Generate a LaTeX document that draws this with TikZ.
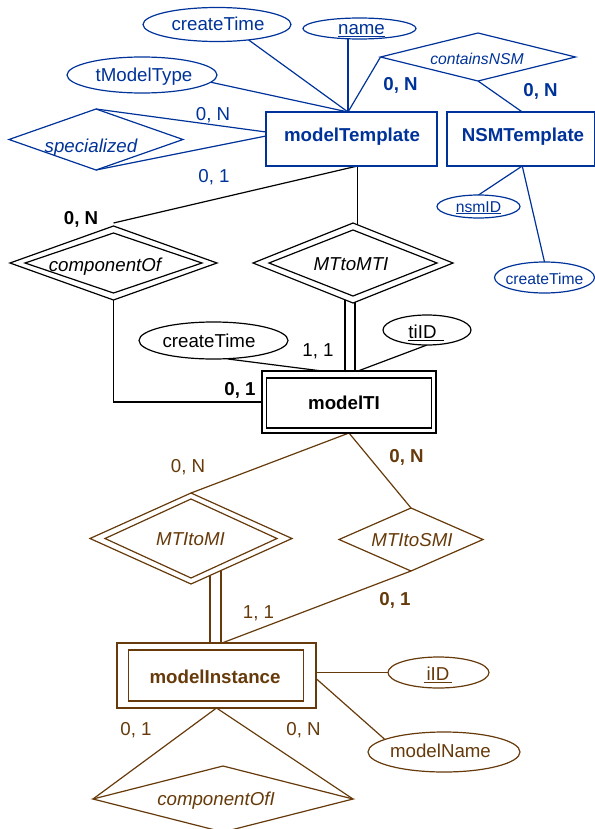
\documentclass[tikz,border=0pt]{standalone}
\usepackage{fontspec}
\setmainfont{Liberation Sans}
\usetikzlibrary{shapes.geometric}
\definecolor{erblue}{RGB}{0,51,153}
\definecolor{erbrown}{RGB}{102,58,10}
\pgfdeclarelayer{bg}
\pgfsetlayers{bg,main}
\begin{document}
\begin{tikzpicture}[x=1bp,y=-1bp,
  every node/.style={inner sep=0pt, outer sep=0pt},
  lbl/.style={font=\fontsize{18.7bp}{21bp}\selectfont, text height=13.4bp, text depth=0pt},
  blbl/.style={lbl, font=\fontsize{18.7bp}{21bp}\selectfont\bfseries},
  ilbl/.style={lbl, font=\fontsize{18.7bp}{21bp}\selectfont\itshape},
  slbl/.style={font=\fontsize{15.7bp}{18bp}\selectfont, text height=11.2bp, text depth=0pt},
  silbl/.style={slbl, font=\fontsize{15.7bp}{18bp}\selectfont\itshape},
  ent/.style={draw, fill=white, rectangle, line width=1.2bp},
  attr/.style={draw, fill=white, ellipse, line width=1.2bp},
  rel/.style={draw, fill=white, diamond, line width=1.2bp},
  link/.style={line width=1.2bp},
]
\useasboundingbox (0,0) rectangle (595,829);

% ---------------- model templates (blue) ----------------
\begin{scope}[color=erblue]
  \node[attr, minimum width=148bp, minimum height=34bp] (ctA) at (217,24.5) {};
  \node[lbl] (ctAt) at (218,24) {createTime};
  \node[attr, minimum width=113bp, minimum height=21bp] (nm) at (359.5,28.5) {};
  \node[lbl] (nmt) at (361.5,28) {\underline{name}};
  \node[attr, minimum width=150bp, minimum height=36bp] (tmt) at (142,75) {};
  \node[lbl] (tmtt) at (144,74.5) {tModelType};

  \node[ent, minimum width=171bp, minimum height=54bp] (mt) at (351.5,139) {};
  \node[blbl] (mtt) at (352,135) {modelTemplate};
  \node[ent, minimum width=147.5bp, minimum height=54bp] (nsm) at (520.75,139) {};
  \node[blbl] (nsmt) at (523,135) {NSMTemplate};

  \node[rel, minimum width=195bp, minimum height=48bp] (cns) at (478,57) {};
  \node[silbl] (cnst) at (477,58.7) {containsNSM};
  \node[rel, minimum width=174bp, minimum height=61bp] (spc) at (96,139.5) {};
  \node[ilbl] (spct) at (91,146) {specialized};

  \node[attr, minimum width=83bp, minimum height=23bp] (nid) at (478.5,206.5) {};
  \node[slbl] (nidt) at (478.5,206.5) {\underline{nsmID}};
  \node[attr, minimum width=100bp, minimum height=31bp] (ctB) at (544.5,277.5) {};
  \node[slbl] (ctBt) at (544.5,279) {createTime};

  \node[lbl] (c1) at (213,114) {0, N};
  \node[lbl] (c2) at (214,176) {0, 1};
  \node[blbl] (c3) at (400.5,83.5) {0, N};
  \node[blbl] (c4) at (540.5,89.5) {0, N};
\end{scope}

% ---------------- template instances (black) ----------------
\node[rel, minimum width=207bp, minimum height=74bp] (cof) at (113.5,263) {};
\node[rel, minimum width=177bp, minimum height=60bp] (cofIn) at (113.5,263) {};
\node[ilbl] (coft) at (105,265) {componentOf};

\node[rel, minimum width=200bp, minimum height=80bp] (mtmti) at (353,263) {};
\node[rel, minimum width=168bp, minimum height=66bp] (mtmtiIn) at (353,263) {};
\node[ilbl] (mtmtit) at (351,264) {MTtoMTI};

\node[ent, minimum width=174bp, minimum height=62bp] (mti) at (349,402) {};
\node[ent, minimum width=165bp, minimum height=50bp] (mtiIn) at (349,403) {};
\node[blbl] (mtit) at (344,403) {modelTI};

\node[attr, minimum width=149bp, minimum height=37bp] (ctC) at (213.5,340.5) {};
\node[lbl] (ctCt) at (209,341) {createTime};
\node[attr, minimum width=88bp, minimum height=30bp] (tid) at (427,330) {};
\node[lbl] (tidt) at (426,332) {\underline{tiID\kern7bp}};

\node[blbl] (c5) at (81,217.5) {0, N};
\node[blbl] (c6) at (240,389) {0, 1};
\node[lbl] (c7) at (318,350) {1, 1};

% ---------------- model instances (brown) ----------------
\begin{scope}[color=erbrown]
  \node[rel, minimum width=202bp, minimum height=91bp] (mtimi) at (191,538.5) {};
  \node[rel, minimum width=172bp, minimum height=79bp] (mtimiIn) at (191,538.5) {};
  \node[ilbl] (mtimit) at (190.5,539) {MTItoMI};
  \node[rel, minimum width=144bp, minimum height=63bp] (mtismi) at (411,539.5) {};
  \node[ilbl] (mtismit) at (412,540) {MTItoSMI};

  \node[ent, minimum width=199bp, minimum height=65bp] (mi) at (216.5,675.5) {};
  \node[ent, minimum width=175bp, minimum height=51bp] (miIn) at (216,675.5) {};
  \node[blbl] (mit) at (215,677) {modelInstance};

  \node[attr, minimum width=101bp, minimum height=31bp] (iid) at (438.5,672.5) {};
  \node[lbl] (iidt) at (438,674) {\underline{\kern3bp iID\kern3bp}};
  \node[attr, minimum width=152bp, minimum height=40bp] (mn) at (444,752) {};
  \node[lbl] (mnt) at (440.5,751) {modelName};

  \node[rel, minimum width=260bp, minimum height=66bp] (coi) at (223,799) {};
  \node[ilbl] (coit) at (216,799) {componentOfI};

  \node[lbl] (c8) at (188,466) {0, N};
  \node[blbl] (c9) at (406.5,456) {0, N};
  \node[lbl] (c10) at (258.5,612) {1, 1};
  \node[blbl] (c11) at (395,598.5) {0, 1};
  \node[lbl] (c12) at (136,729) {0, 1};
  \node[lbl] (c13) at (303.5,729) {0, N};
\end{scope}

% ---------------- connectors ----------------
\begin{pgfonlayer}{bg}
  \coordinate (mtTop) at ([xshift=-3.5bp]mt.north);
  \coordinate (mtBot) at ([xshift=6bp]mt.south);
  \coordinate (nsmTop) at ([xshift=1.5bp]nsm.north);
  \coordinate (nsmBot) at ([xshift=1.5bp]nsm.south);
  \begin{scope}[erblue, link]
    \draw (ctA.-26.6) -- (mtTop);
    \draw (tmt.-6) -- (mtTop);
    \draw (mtTop |- nm.south) -- (mtTop);
    \draw (cns.west) -- (mtTop);
    \draw (cns.south) -- (nsmTop);
    \draw (spc.north) -- ([yshift=7bp]mt.west);
    \draw (spc.south) -- ([yshift=3bp]mt.west);
    \draw (nsmBot) -- (nid.north);
    \draw (nsmBot) -- (ctB.north);
  \end{scope}
  \begin{scope}[black, link]
    \draw (mtBot) -- ([yshift=3bp]cof.north);
    \draw (mtBot) -- (mtBot |- mtmti.center);
    \draw (cof.south) |- (mti.west);
    \draw ([xshift=-8bp]mtmti.center) -- ([xshift=-8bp]mtmti.center |- mti.north);
    \draw ([xshift=2bp]mtmti.center) -- ([xshift=2bp]mtmti.center |- mti.north);
    \draw ([xshift=14.5bp]ctC.south) -- ([xshift=-27bp]mti.north);
    \draw (tid.south) -- ([xshift=9bp]mti.north);
  \end{scope}
  \begin{scope}[erbrown, link]
    \draw (mti.south) -- (mtimi.north);
    \draw (mti.south) -- (mtismi.north);
    \draw ([xshift=19bp]mtimi.center) -- ([xshift=19bp]mtimi.center |- mi.north);
    \draw ([xshift=30bp]mtimi.center) -- ([xshift=30bp]mtimi.center |- mi.north);
    \draw (mtismi.south) -- ([xshift=5.5bp]mi.north);
    \draw (iid.west -| mi.east) -- (iid.west);
    \draw ([yshift=-3bp]mi.east) -- (mn.168);
    \draw (mi.south) -- (coi.west);
    \draw (mi.south) -- (coi.east);
  \end{scope}
\end{pgfonlayer}
\end{tikzpicture}
\end{document}
